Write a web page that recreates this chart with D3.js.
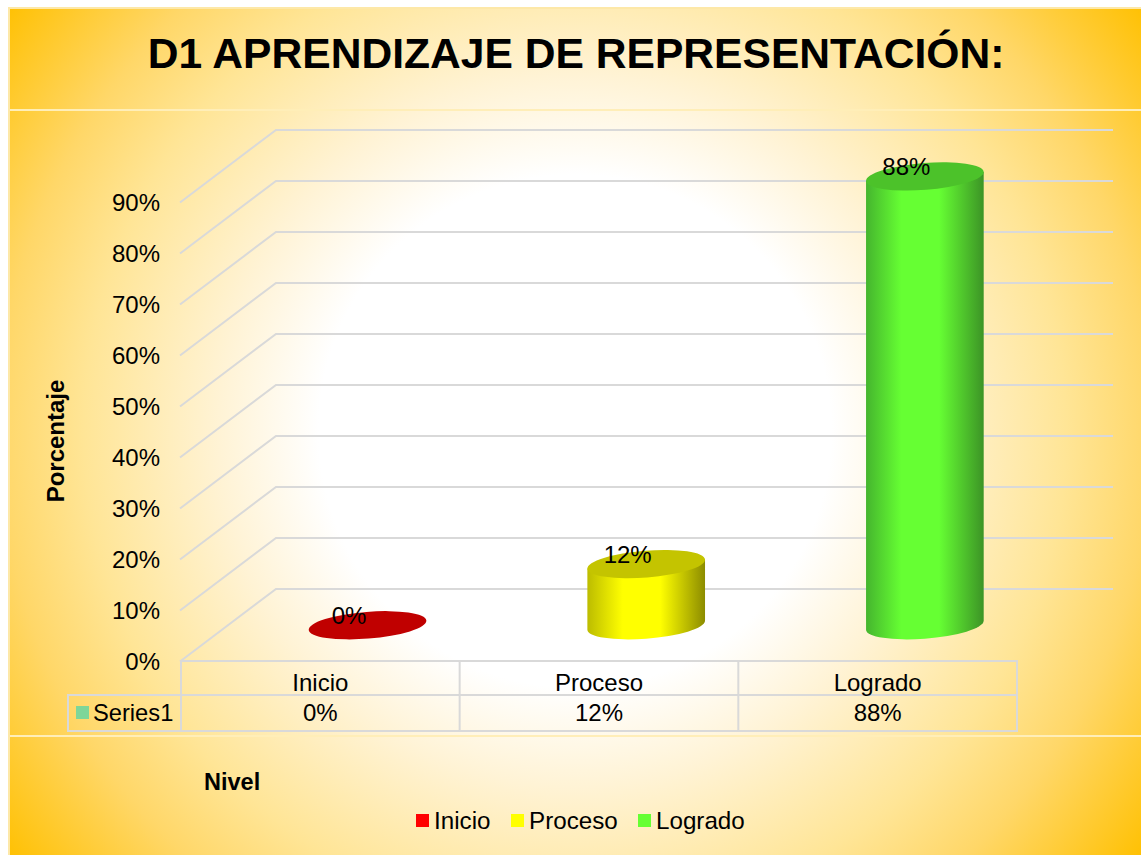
<!DOCTYPE html>
<html>
<head>
<meta charset="utf-8">
<script src="https://cdn.jsdelivr.net/npm/d3@7"></script>
<style>
  html, body { margin: 0; padding: 0; background: #fff; }
  svg { display: block; font-family: "Liberation Sans", Arial, sans-serif; }
  .axis path, .axis line { display: none; }
</style>
</head>
<body>
<div id="chart"></div>
<script>
const titleText = "D1 APRENDIZAJE DE REPRESENTACIÓN:";
const categories = ["Inicio", "Proceso", "Logrado"];
const values = [0, 12, 88];
const valueLabels = ["0%", "12%", "88%"];
const yTicks = [0, 10, 20, 30, 40, 50, 60, 70, 80, 90];
const seriesName = "Series1";

const sideColors = ["#ff0000", "#ffff00", "#66ff33"];
const edgeLeft = ["#b00000", "#bcbc00", "#45b52e"];
const edgeRight = ["#800000", "#8c8c00", "#3c9426"];
const topColors = ["#c00000", "#c4c400", "#4cc22a"];

const width = 1141;
const height = 855;
const gridColor = "#d9d9d9";

// wall depth of the 3d box
const depthX = 96;
const depthY = -72.5;

const svg = d3
  .select("#chart")
  .append("svg")
  .attr("width", width)
  .attr("height", height);

const defs = svg.append("defs");

const bg = defs
  .append("radialGradient")
  .attr("id", "bg")
  .attr("gradientUnits", "userSpaceOnUse")
  .attr("cx", 575)
  .attr("cy", 431)
  .attr("r", 712);
bg.append("stop").attr("offset", 0.36).attr("stop-color", "#ffffff");
bg.append("stop").attr("offset", 0.5).attr("stop-color", "#fff3d5");
bg.append("stop").attr("offset", 0.69).attr("stop-color", "#ffe596");
bg.append("stop").attr("offset", 0.81).attr("stop-color", "#ffd768");
bg.append("stop").attr("offset", 1).attr("stop-color", "#ffc000");

categories.forEach((c, i) => {
  const g = defs
    .append("linearGradient")
    .attr("id", "side" + i)
    .attr("x1", 0)
    .attr("x2", 1)
    .attr("y1", 0)
    .attr("y2", 0);
  g.append("stop").attr("offset", 0).attr("stop-color", edgeLeft[i]);
  g.append("stop").attr("offset", 0.3).attr("stop-color", sideColors[i]);
  g.append("stop").attr("offset", 0.62).attr("stop-color", sideColors[i]);
  g.append("stop").attr("offset", 1).attr("stop-color", edgeRight[i]);
});

svg
  .append("rect")
  .attr("x", 9)
  .attr("y", 8)
  .attr("width", width)
  .attr("height", height)
  .attr("fill", "url(#bg)")
  .attr("stroke", "#fde8a8")
  .attr("stroke-width", 2);

// light bands under the title and above the legend
[110, 736].forEach((y) => {
  svg
    .append("line")
    .attr("x1", 10)
    .attr("x2", width)
    .attr("y1", y)
    .attr("y2", y)
    .attr("stroke", "#ffeeb8")
    .attr("stroke-width", 2);
});

svg
  .append("text")
  .attr("x", 576)
  .attr("y", 68)
  .attr("text-anchor", "middle")
  .attr("font-size", 42.6)
  .attr("font-weight", "bold")
  .text(titleText);

const y = d3.scaleLinear().domain([0, 90]).range([661.5, 202.5]);
const x = d3.scaleBand().domain(categories).range([181, 1017]);

const grid = svg.append("g").attr("class", "grid");

yTicks.forEach((t) => {
  grid
    .append("polyline")
    .attr(
      "points",
      [
        [180, y(t)],
        [180 + depthX, y(t) + depthY],
        [1113, y(t) + depthY],
      ].join(" ")
    )
    .attr("fill", "none")
    .attr("stroke", gridColor)
    .attr("stroke-width", 2);
});

const axis = d3
  .axisLeft(y)
  .tickValues(yTicks)
  .tickSize(0)
  .tickPadding(20)
  .tickFormat((d) => d + "%");

svg
  .append("g")
  .attr("class", "axis")
  .attr("transform", "translate(180,0)")
  .call(axis)
  .call((g) =>
    g
      .selectAll("text")
      .attr("font-size", 24)
      .attr("font-family", "Liberation Sans")
      .attr("fill", "#000")
  );

// cylinders stand half way into the floor depth
const a = 59;
const b = 13.4;
const tilt = -4.5;
const phi = (tilt * Math.PI) / 180;
const halfW = Math.sqrt(a * a * Math.cos(phi) ** 2 + b * b * Math.sin(phi) ** 2);
const edgeY = ((a * a - b * b) * Math.sin(phi) * Math.cos(phi)) / halfW;

const cx = (c) => x(c) + x.bandwidth() / 2 + depthX / 2 - 0.8;
const cy = (v) => y(v) + depthY / 2;

const bars = svg
  .selectAll(".bar")
  .data(categories)
  .enter()
  .append("g")
  .attr("class", "bar");

bars
  .filter((c, i) => values[i] > 0)
  .append("path")
  .attr("d", (c) => {
    const v = values[categories.indexOf(c)];
    const left = cx(c) - halfW;
    const right = cx(c) + halfW;
    return (
      `M${left},${cy(v) - edgeY}L${left},${cy(0) - edgeY}` +
      `A${a},${b} ${tilt} 0 0 ${right},${cy(0) + edgeY}` +
      `L${right},${cy(v) + edgeY}Z`
    );
  })
  .attr("fill", (c) => "url(#side" + categories.indexOf(c) + ")");

bars
  .append("ellipse")
  .attr("rx", a)
  .attr("ry", b)
  .attr(
    "transform",
    (c, i) => `translate(${cx(c)},${cy(values[i])}) rotate(${tilt})`
  )
  .attr("fill", (c, i) => topColors[i]);

bars
  .append("text")
  .attr("x", (c) => cx(c) - 18.5)
  .attr("y", (c, i) => cy(values[i]) - 1)
  .attr("text-anchor", "middle")
  .attr("font-size", 24)
  .text((c, i) => valueLabels[i]);

// data table below the floor
const table = svg
  .append("g")
  .attr("fill", "none")
  .attr("stroke", gridColor)
  .attr("stroke-width", 2);

const tableTop = 661;
const tableMid = 695;
const tableBottom = 731;

table
  .append("path")
  .attr(
    "d",
    `M181,${tableTop}H1017V${tableBottom}H68V${tableMid}H1017M181,${tableTop}V${tableBottom}`
  );

table
  .selectAll(".sep")
  .data(categories.slice(1))
  .enter()
  .append("line")
  .attr("class", "sep")
  .attr("x1", (c) => x(c))
  .attr("x2", (c) => x(c))
  .attr("y1", tableTop)
  .attr("y2", tableBottom);

const cellText = (rows, yPos) => {
  svg
    .append("g")
    .selectAll("text")
    .data(rows)
    .enter()
    .append("text")
    .attr("x", (d, i) => x(categories[i]) + x.bandwidth() / 2)
    .attr("y", yPos)
    .attr("text-anchor", "middle")
    .attr("font-size", 24)
    .text((d) => d);
};
cellText(categories, 691);
cellText(valueLabels, 721);

svg
  .append("rect")
  .attr("x", 76)
  .attr("y", 706)
  .attr("width", 13)
  .attr("height", 13)
  .attr("fill", "#7ed699");

svg
  .append("text")
  .attr("x", 93)
  .attr("y", 721)
  .attr("font-size", 23.7)
  .text(seriesName);

svg
  .append("text")
  .attr("transform", "translate(64,441) rotate(-90)")
  .attr("text-anchor", "middle")
  .attr("font-size", 24)
  .attr("font-weight", "bold")
  .text("Porcentaje");

svg
  .append("text")
  .attr("x", 204)
  .attr("y", 790)
  .attr("font-size", 23.5)
  .attr("font-weight", "bold")
  .text("Nivel");

// legend
const legendX = [416, 511, 638];
const legend = svg
  .selectAll(".legend")
  .data(categories)
  .enter()
  .append("g")
  .attr("class", "legend")
  .attr("transform", (c, i) => `translate(${legendX[i]},814)`);

legend
  .append("rect")
  .attr("width", 13)
  .attr("height", 13)
  .attr("fill", (c, i) => sideColors[i]);

legend
  .append("text")
  .attr("x", 18)
  .attr("y", 15)
  .attr("font-size", 24.2)
  .text((c) => c);
</script>
</body>
</html>
